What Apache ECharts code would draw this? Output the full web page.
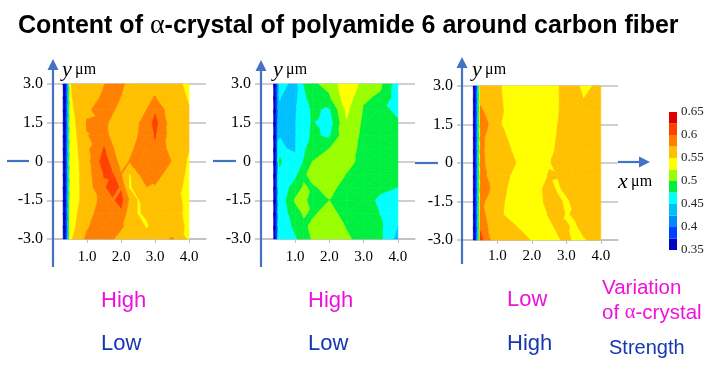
<!DOCTYPE html>
<html>
<head>
<meta charset="utf-8">
<style>html,body{margin:0;padding:0;background:#fff}#main{width:728px;height:373px}</style>
<script src="https://cdn.jsdelivr.net/npm/echarts@6/dist/echarts.min.js"></script>
</head>
<body>
<div id="main"></div>
<script>
// y rows shared by the three maps, each column below lists z from y=3 down to y=-3
const yRows = [3, 2.5, 2, 1.5, 1, 0.5, 0, -0.5, -1, -1.5, -2, -2.5, -3];

const xA = [0.3, 0.35, 0.4, 0.45, 0.5, 0.75, 1, 1.5, 1.75, 2, 2.25, 2.5, 2.75, 3, 3.5, 4];
const zA = [
  [.355,.355,.355,.355,.355,.355,.355,.355,.355,.355,.355,.355,.355],
  [.36,.36,.36,.36,.36,.36,.36,.36,.36,.36,.36,.36,.36],
  [.39,.39,.39,.39,.39,.39,.39,.39,.39,.39,.39,.39,.39],
  [.45,.45,.45,.45,.45,.45,.45,.45,.45,.45,.45,.45,.45],
  [.548,.546,.543,.54,.537,.534,.53,.53,.53,.53,.535,.54,.545],
  [.56,.562,.558,.555,.553,.551,.549,.548,.548,.548,.552,.555,.565],
  [.565,.56,.57,.577,.574,.57,.567,.565,.563,.562,.566,.572,.58],
  [.574,.58,.59,.58,.585,.602,.612,.601,.597,.583,.588,.592,.59],
  [.585,.585,.578,.57,.568,.578,.59,.602,.61,.597,.59,.585,.577],
  [.582,.575,.567,.563,.56,.56,.565,.577,.597,.608,.595,.58,.565],
  [.565,.563,.563,.565,.565,.57,.576,.549,.548,.572,.562,.562,.562],
  [.56,.563,.57,.573,.575,.58,.584,.574,.555,.549,.549,.558,.56],
  [.56,.57,.575,.585,.585,.59,.587,.58,.575,.556,.552,.548,.558],
  [.559,.576,.596,.608,.602,.595,.59,.583,.573,.565,.56,.555,.556],
  [.558,.56,.558,.561,.562,.565,.574,.565,.561,.557,.556,.558,.578],
  [.545,.548,.551,.553,.552,.551,.547,.545,.543,.545,.546,.547,.546]
];

const xB = [0.37, 0.42, 0.47, 0.5, 0.55, 0.75, 1, 1.25, 1.5, 2, 2.5, 3, 3.5, 4];
const zB = [
  [.36,.36,.36,.36,.36,.36,.36,.36,.36,.36,.36,.36,.36],
  [.37,.37,.37,.37,.37,.37,.37,.37,.37,.37,.37,.37,.37],
  [.39,.39,.39,.39,.39,.39,.39,.39,.39,.39,.39,.39,.39],
  [.445,.445,.445,.445,.447,.455,.47,.455,.46,.46,.46,.46,.46],
  [.455,.452,.445,.445,.448,.46,.482,.465,.462,.462,.462,.462,.46],
  [.452,.44,.437,.435,.44,.45,.46,.465,.47,.476,.472,.468,.465],
  [.44,.442,.447,.449,.449,.449,.452,.468,.486,.503,.49,.48,.472],
  [.475,.47,.465,.465,.468,.47,.476,.495,.503,.508,.503,.495,.485],
  [.497,.486,.478,.477,.478,.49,.5,.51,.496,.485,.496,.505,.502],
  [.505,.498,.472,.462,.472,.5,.515,.515,.51,.5,.51,.515,.518],
  [.545,.54,.53,.523,.52,.515,.51,.499,.487,.474,.488,.498,.505],
  [.515,.503,.498,.495,.492,.49,.49,.488,.486,.484,.485,.486,.488],
  [.503,.497,.482,.482,.482,.482,.482,.482,.48,.47,.474,.478,.478],
  [.46,.461,.469,.478,.48,.48,.48,.478,.475,.46,.455,.45,.44]
];

const xC = [0.3, 0.37, 0.43, 0.47, 0.51, 0.75, 1, 1.5, 2, 2.5, 2.75, 3, 3.25, 3.5, 4];
const zC = [
  [.355,.355,.355,.355,.355,.355,.355,.355,.355,.355,.355,.355,.355],
  [.375,.375,.375,.375,.375,.375,.375,.375,.375,.375,.375,.375,.375],
  [.44,.44,.44,.44,.44,.44,.44,.44,.44,.44,.44,.44,.44],
  [.5,.5,.5,.5,.5,.5,.5,.5,.5,.5,.5,.5,.5],
  [.565,.572,.578,.58,.58,.58,.58,.58,.58,.58,.585,.595,.61],
  [.565,.567,.57,.575,.57,.568,.57,.573,.578,.57,.567,.573,.577],
  [.553,.554,.555,.553,.556,.558,.56,.558,.556,.555,.554,.558,.565],
  [.54,.54,.541,.54,.545,.548,.551,.547,.545,.543,.542,.552,.558],
  [.535,.535,.535,.535,.535,.535,.533,.535,.535,.535,.536,.54,.549],
  [.535,.535,.535,.535,.537,.54,.548,.552,.56,.558,.552,.545,.54],
  [.548,.548,.548,.55,.553,.556,.557,.551,.546,.556,.56,.554,.547],
  [.56,.56,.56,.56,.56,.56,.558,.556,.557,.545,.548,.552,.556],
  [.56,.562,.562,.562,.562,.56,.56,.56,.56,.558,.553,.547,.545],
  [.54,.55,.56,.56,.56,.56,.56,.56,.56,.56,.56,.556,.548],
  [.56,.56,.56,.56,.56,.56,.56,.56,.56,.56,.56,.56,.56]
];

// colour bands of the scale, lowest first
const bandEdges = [.35,.375,.4,.425,.45,.475,.5,.525,.55,.575,.6,.625,.65];
const bandColors = ['#0000c8','#0040ff','#0088ff','#00bfff','#00ffff','#00f040','#99ff00','#ffff00','#ffc000','#ff8000','#ff4000','#e00000'];
const xTicks = [1, 2, 3, 4];

const serif = 'Liberation Serif';
const sans = 'Liberation Sans';
const blue = '#4472c4';
const gray = '#bfbfbf';

// keep the part of a triangle with lo <= z <= hi
function clipBand(tri, lo, hi) {
  let pts = clipSide(tri, lo, 1);
  if (pts.length) pts = clipSide(pts, hi, -1);
  return pts;
}
function clipSide(pts, level, sign) {
  const out = [];
  for (let i = 0; i < pts.length; i++) {
    const a = pts[i], b = pts[(i + 1) % pts.length];
    const da = (a[2] - level) * sign, db = (b[2] - level) * sign;
    if (da >= 0) out.push(a);
    if ((da >= 0) !== (db >= 0)) {
      const t = da / (da - db);
      out.push([a[0] + (b[0] - a[0]) * t, a[1] + (b[1] - a[1]) * t, level]);
    }
  }
  return out;
}

function cellItem(xs, zs) {
  return function (params, api) {
    const i = api.value(2), j = api.value(3);
    const p = [
      [xs[i], yRows[j], zs[i][j]],
      [xs[i + 1], yRows[j], zs[i + 1][j]],
      [xs[i + 1], yRows[j + 1], zs[i + 1][j + 1]],
      [xs[i], yRows[j + 1], zs[i][j + 1]]
    ];
    // split along the diagonal whose ends are closest in value, ridges stay connected
    const tris = Math.abs(p[0][2] - p[2][2]) <= Math.abs(p[1][2] - p[3][2])
      ? [[p[0], p[1], p[2]], [p[0], p[2], p[3]]]
      : [[p[0], p[1], p[3]], [p[1], p[2], p[3]]];
    const children = [];
    tris.forEach(function (tri) {
      for (let b = 0; b < bandColors.length; b++) {
        const poly = clipBand(tri, bandEdges[b], bandEdges[b + 1]);
        if (poly.length < 3) continue;
        children.push({
          type: 'polygon',
          shape: { points: poly.map(q => api.coord([q[0], q[1]])) },
          style: { fill: bandColors[b], stroke: bandColors[b], lineWidth: 0.6 }
        });
      }
    });
    return { type: 'group', children: children };
  };
}

function cells(xs) {
  const out = [];
  for (let i = 0; i < xs.length - 1; i++) {
    for (let j = 0; j < yRows.length - 1; j++) {
      out.push([xs[i], yRows[j], i, j]);
    }
  }
  return out;
}

const panels = [
  { xs: xA, zs: zA, left: 53, width: 153, top: 84, height: 155, labelGap: 11 },
  { xs: xB, zs: zB, left: 261, width: 154, top: 84, height: 155, labelGap: 11 },
  { xs: xC, zs: zC, left: 463, width: 155, top: 86, height: 154, labelGap: 9 }
];

const grid = [], xAxis = [], yAxis = [], series = [];
panels.forEach(function (p, n) {
  grid.push({ left: p.left, top: p.top, width: p.width, height: p.height });
  xAxis.push({
    gridIndex: n, type: 'value', min: 0, max: 4.5,
    splitLine: { show: false },
    axisLine: { onZero: false, lineStyle: { color: gray, width: 1.5 } },
    axisTick: { length: 4, lineStyle: { color: gray }, customValues: xTicks },
    axisLabel: {
      customValues: xTicks, margin: p.labelGap, color: '#000', fontFamily: serif, fontSize: 15,
      formatter: v => v.toFixed(1)
    }
  });
  yAxis.push({
    gridIndex: n, type: 'value', min: -3, max: 3, interval: 1.5,
    splitLine: { lineStyle: { color: gray, width: 1.5 } },
    axisLine: { show: false },
    axisTick: { show: true, length: 6, lineStyle: { color: gray, width: 1.5 } },
    axisLabel: {
      margin: 10, color: '#000', fontFamily: serif, fontSize: 16,
      formatter: v => (v === 0 ? '0' : v.toFixed(1))
    }
  });
  series.push({
    type: 'custom', xAxisIndex: n, yAxisIndex: n, silent: true,
    renderItem: cellItem(p.xs, p.zs),
    encode: { x: 0, y: 1 },
    data: cells(p.xs)
  });
});

// scale bar on its own small grid
grid.push({ left: 669, top: 112, width: 8, height: 138 });
xAxis.push({ gridIndex: 3, type: 'value', min: 0, max: 1, show: false });
yAxis.push({
  gridIndex: 3, type: 'value', position: 'right', min: .35, max: .65, interval: .05,
  splitLine: { show: false }, axisLine: { show: false }, axisTick: { show: false },
  axisLabel: { margin: 4, color: '#222', fontFamily: serif, fontSize: 13 }
});
series.push({
  type: 'custom', xAxisIndex: 3, yAxisIndex: 3, silent: true,
  renderItem: function (params, api) {
    const b = params.dataIndex;
    return {
      type: 'polygon',
      shape: { points: [
        api.coord([0, bandEdges[b]]), api.coord([1, bandEdges[b]]),
        api.coord([1, bandEdges[b + 1]]), api.coord([0, bandEdges[b + 1]])
      ] },
      style: { fill: bandColors[b] }
    };
  },
  encode: { x: 0, y: 1 },
  data: bandColors.map((c, b) => [0, bandEdges[b]])
});

function stroke(points) {
  return { type: 'polyline', z: 20, shape: { points: points }, style: { stroke: blue, lineWidth: 2.2, fill: null } };
}
function head(points) {
  return { type: 'polygon', z: 20, shape: { points: points }, style: { fill: blue } };
}
function unit(x, y, name) {
  return {
    type: 'text', z: 20, left: x, top: y,
    style: {
      text: '{v|' + name + '} {u|\u03bcm}',
      rich: {
        v: { fontFamily: serif, fontStyle: 'italic', fontSize: 22, fill: '#000' },
        u: { fontFamily: serif, fontSize: 16, fill: '#000' }
      }
    }
  };
}
function label(text, x, y, color, size) {
  return {
    type: 'text', z: 20, x: x, y: y,
    style: {
      text: text, fill: color, fontFamily: sans, fontSize: size || 22, verticalAlign: 'middle',
      rich: { a: { fontFamily: serif, fontSize: size || 22, fill: color } }
    }
  };
}

const magenta = '#ee11dd';
const navy = '#1438b0';
const graphic = [
  stroke([[53, 267], [53, 68]]), head([[53, 59], [47.5, 70], [58.5, 70]]),
  stroke([[261, 267], [261, 68]]), head([[261, 60], [255.5, 71], [266.5, 71]]),
  stroke([[462, 264], [462, 66]]), head([[462, 57], [456.5, 68], [467.5, 68]]),
  stroke([[7, 161], [29, 161]]),
  stroke([[213, 161], [236, 161]]),
  stroke([[415, 163], [438, 163]]),
  stroke([[618, 162], [641, 162]]), head([[650, 162], [639, 156.5], [639, 167.5]]),
  unit(62, 59, 'y'),
  unit(273, 59, 'y'),
  unit(472, 59, 'y'),
  unit(618, 171, 'x'),
  label('High', 101, 301, magenta),
  label('Low', 101, 344, navy),
  label('High', 308, 301, magenta),
  label('Low', 308, 344, navy),
  label('Low', 507, 300, magenta),
  label('High', 507, 344, navy),
  label('Variation', 602, 288, magenta, 20.5),
  label('of {a|\u03b1}-crystal', 602, 313, magenta, 20.5),
  label('Strength', 609, 348, navy, 20)
];

const myChart = echarts.init(document.getElementById('main'));
myChart.setOption({
  animation: false,
  backgroundColor: '#fff',
  title: {
    text: 'Content of {a|\u03b1}-crystal of polyamide 6 around carbon fiber',
    left: 18, top: 12, padding: 0,
    textStyle: {
      fontFamily: sans, fontWeight: 'bold', fontSize: 25, color: '#000',
      rich: { a: { fontFamily: serif, fontWeight: 'normal', fontSize: 28, color: '#000' } }
    }
  },
  grid: grid,
  xAxis: xAxis,
  yAxis: yAxis,
  series: series,
  graphic: graphic
});
</script>
</body>
</html>
